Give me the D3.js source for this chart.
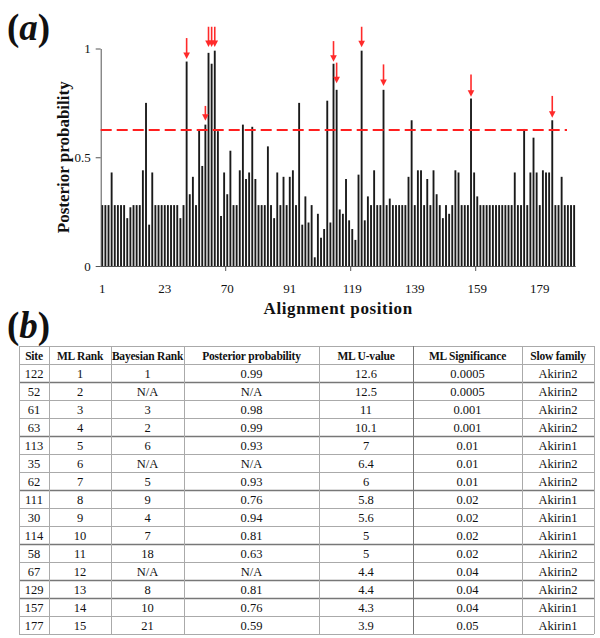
<!DOCTYPE html>
<html><head><meta charset="utf-8">
<script src="https://cdn.jsdelivr.net/npm/d3@7"></script>
<style>
body{margin:0;background:#fff;}
svg{display:block;font-family:"Liberation Serif","Times New Roman",serif;}
</style></head>
<body><svg id="c" width="600" height="638"></svg>
<script>
// ---------- data: panel (a) ----------
const posteriorValues = [
0.28,0.28,0.28,0.43,0.28,0.28,0.28,0.28,0.22,0.27,
0.28,0.28,0.28,0.44,0.75,0.19,0.43,0.28,0.28,0.28,
0.28,0.28,0.28,0.28,0.28,0.22,0.28,0.94,0.33,0.41,
0.28,0.63,0.46,0.65,0.98,0.93,0.99,0.62,0.23,0.43,
0.33,0.53,0.28,0.28,0.44,0.65,0.40,0.43,0.64,0.40,
0.28,0.28,0.28,0.55,0.28,0.22,0.43,0.28,0.41,0.28,
0.41,0.44,0.28,0.75,0.19,0.32,0.20,0.28,0.04,0.24,
0.13,0.17,0.76,0.20,0.93,0.81,0.26,0.24,0.40,0.21,
0.17,0.12,0.42,0.99,0.21,0.32,0.28,0.44,0.28,0.28,
0.81,0.28,0.31,0.28,0.28,0.28,0.28,0.28,0.41,0.67,
0.28,0.44,0.44,0.28,0.40,0.28,0.44,0.33,0.28,0.22,
0.28,0.24,0.28,0.44,0.43,0.28,0.28,0.28,0.77,0.43,
0.32,0.28,0.28,0.28,0.28,0.28,0.28,0.28,0.28,0.28,
0.28,0.28,0.43,0.28,0.28,0.63,0.28,0.43,0.59,0.43,
0.28,0.44,0.43,0.43,0.67,0.28,0.28,0.41,0.28,0.28,
0.28,0.28];
const categories = posteriorValues.map((v,i)=>i+1);
const tickCategories = [1,21,41,61,81,101,121,141];
const tickLabels = ["1","23","70","91","119","139","159","179"];
const tickMarkCategories = [41,81,121];
const yTicks = [0,0.5,1];
const yTickLabels = ["0","0.5","1"];
const threshold = 0.625;
const arrowCategories = [28,34,35,36,37,75,76,84,91,119,145];
const arrowTipValues  = [0.952,0.668,1.007,1.007,1.007,0.939,0.84,1.006,0.828,0.778,0.682];
const arrowTopValues  = [1.048,0.736,1.10,1.10,1.10,1.034,0.935,1.10,0.927,0.881,0.782];

// ---------- data: panel (b) ----------
const headers = ["Site","ML Rank","Bayesian Rank","Posterior probability","ML U-value","ML Significance","Slow family"];
const sites = ["122","52","61","63","113","35","62","111","30","114","58","67","129","157","177"];
const mlRanks = ["1","2","3","4","5","6","7","8","9","10","11","12","13","14","15"];
const bayesRanks = ["1","N/A","3","2","6","N/A","5","9","4","7","18","N/A","8","10","21"];
const postProbs = ["0.99","N/A","0.98","0.99","0.93","N/A","0.93","0.76","0.94","0.81","0.63","N/A","0.81","0.76","0.59"];
const mlU = ["12.6","12.5","11","10.1","7","6.4","6","5.8","5.6","5","5","4.4","4.4","4.3","3.9"];
const mlSig = ["0.0005","0.0005","0.001","0.001","0.01","0.01","0.01","0.02","0.02","0.02","0.02","0.04","0.04","0.04","0.05"];
const slowFamily = ["Akirin2","Akirin2","Akirin2","Akirin2","Akirin1","Akirin2","Akirin2","Akirin1","Akirin1","Akirin1","Akirin2","Akirin2","Akirin2","Akirin1","Akirin1"];

const svg = d3.select("#c");

// ---------- panel (a) ----------
const plotLeft = 100.7, plotRight = 575.7, plotTop = 48.5, plotBottom = 266;
const x = d3.scaleBand().domain(categories).range([plotLeft, plotRight]).paddingInner(0.4).paddingOuter(0.2);
const y = d3.scaleLinear().domain([0,1]).range([plotBottom, plotTop]);
const step = x.step();

const la = svg.append("text").attr("x",7).attr("y",40).attr("font-size",37).attr("font-weight","bold").attr("fill","#111");
la.append("tspan").text("(");
la.append("tspan").attr("font-style","italic").text("a");
la.append("tspan").text(")");

svg.append("g").selectAll("rect").data(posteriorValues).join("rect")
  .attr("x",(d,i)=>x(categories[i]))
  .attr("width",x.bandwidth())
  .attr("y",d=>y(d))
  .attr("height",d=>plotBottom - y(d))
  .attr("fill","#1a1a1a");

const ya = svg.append("g").attr("transform",`translate(${plotLeft},0)`)
  .call(d3.axisLeft(y).tickValues(yTicks).tickFormat((d,i)=>yTickLabels[i]).tickSize(5).tickSizeOuter(0).tickPadding(5));
ya.select(".domain").attr("stroke","#555");
ya.selectAll(".tick line").attr("stroke","#555");
ya.selectAll("text").attr("font-size",13).attr("font-family","Liberation Serif").attr("fill","#111");

// x axis line
svg.append("line").attr("x1",plotLeft).attr("x2",plotRight).attr("y1",plotBottom+0.5).attr("y2",plotBottom+0.5).attr("stroke","#555");
// x tick labels (category labels)
svg.append("g").selectAll("text").data(tickCategories).join("text")
  .attr("x",d=>x(d)+x.bandwidth()/2).attr("y",plotBottom+27)
  .attr("text-anchor","middle").attr("font-size",13).attr("fill","#111")
  .text((d,i)=>tickLabels[i]);
// x tick marks at category boundaries
svg.append("g").selectAll("line").data(tickMarkCategories).join("line")
  .attr("x1",d=>x(d)-step*0.2).attr("x2",d=>x(d)-step*0.2)
  .attr("y1",plotBottom).attr("y2",plotBottom+5).attr("stroke","#555");

svg.append("line").attr("x1",plotLeft).attr("x2",567).attr("y1",y(threshold)).attr("y2",y(threshold))
  .attr("stroke","#ff1f1f").attr("stroke-width",2).attr("stroke-dasharray","11,5");

const ag = svg.append("g");
arrowCategories.forEach((c,i)=>{
  const cx = x(c) + x.bandwidth()/2;
  const tip = y(arrowTipValues[i]), topY = y(arrowTopValues[i]);
  ag.append("line").attr("x1",cx).attr("x2",cx).attr("y1",topY).attr("y2",tip-5)
    .attr("stroke","#ff2a2a").attr("stroke-width",1.6);
  ag.append("path").attr("d",`M${cx-3.3},${tip-6.5}L${cx+3.3},${tip-6.5}L${cx},${tip}Z`).attr("fill","#ff2a2a");
});

svg.append("text").attr("transform",`translate(69,${(plotTop+plotBottom)/2}) rotate(-90)`)
  .attr("text-anchor","middle").attr("font-size",17).attr("font-weight","bold").attr("fill","#111")
  .text("Posterior probability");
svg.append("text").attr("x",(plotLeft+plotRight)/2).attr("y",314)
  .attr("text-anchor","middle").attr("font-size",17).attr("font-weight","bold").attr("fill","#111")
  .attr("letter-spacing",0.6)
  .text("Alignment position");

// ---------- panel (b) ----------
const lb = svg.append("text").attr("x",7).attr("y",338).attr("font-size",37).attr("font-weight","bold").attr("fill","#111");
lb.append("tspan").text("(");
lb.append("tspan").attr("font-style","italic").text("b");
lb.append("tspan").text(")");

const colEdges = [19,49,111,184,319,413,522,594];
const tableTop = 346, rowH = 18;
const columns = [sites, mlRanks, bayesRanks, postProbs, mlU, mlSig, slowFamily];
const nRows = sites.length + 1;
const rowScale = d3.scaleLinear().domain([0,nRows]).range([tableTop, tableTop + nRows*rowH]);

const tg = svg.append("g");
const darkRows = [2,5,8,11,13,14];
d3.range(nRows+1).forEach(r=>{
  tg.append("line").attr("x1",colEdges[0]).attr("x2",colEdges[colEdges.length-1])
    .attr("y1",rowScale(r)+0.5).attr("y2",rowScale(r)+0.5)
    .attr("stroke", darkRows.includes(r) ? "#777" : "#aaa").attr("stroke-width", darkRows.includes(r)?1.3:1);
});
colEdges.forEach((cx,i)=>{
  tg.append("line").attr("x1",cx+0.5).attr("x2",cx+0.5)
    .attr("y1",rowScale(0)).attr("y2",rowScale(nRows))
    .attr("stroke", i===5 ? "#777" : "#aaa");
});
headers.forEach((h,i)=>{
  tg.append("text").attr("x",(colEdges[i]+colEdges[i+1])/2).attr("y",rowScale(0)+rowH/2+4.5)
    .attr("text-anchor","middle").attr("font-size",11.5).attr("font-weight","bold")
    .attr("letter-spacing",-0.2).attr("fill","#111").text(h);
});
columns.forEach((col,i)=>{
  col.forEach((v,r)=>{
    tg.append("text").attr("x",(colEdges[i]+colEdges[i+1])/2).attr("y",rowScale(r+1)+rowH/2+4.5)
      .attr("text-anchor","middle").attr("font-size",12.5).attr("fill","#111").text(v);
  });
});
</script></body></html>
